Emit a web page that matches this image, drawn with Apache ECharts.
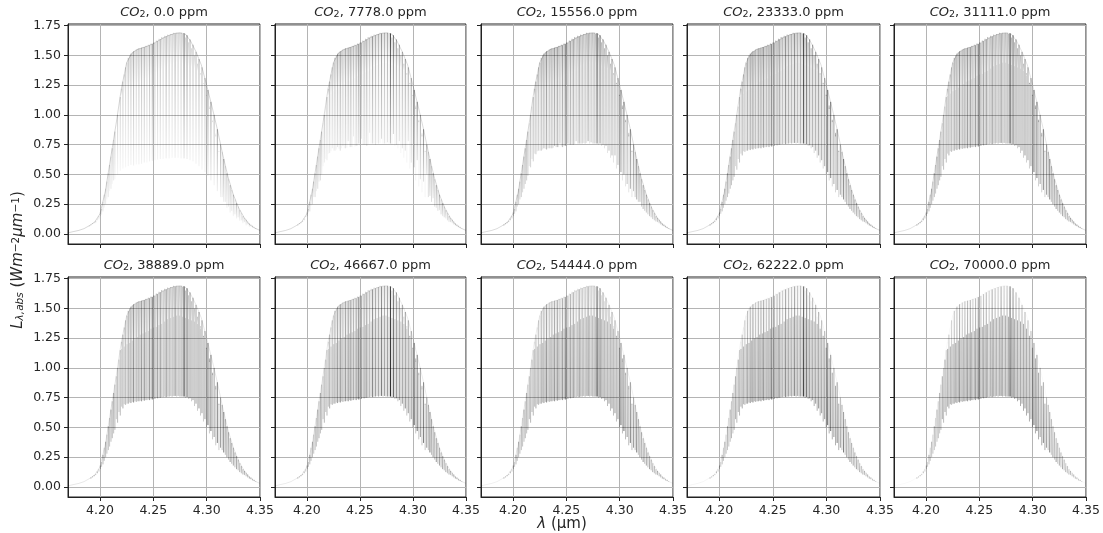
<!DOCTYPE html>
<html><head><meta charset="utf-8">
<style>html,body{margin:0;padding:0;background:#fff}#c{width:1103px;height:533px;filter:blur(0.4px)}</style>
<script src="https://cdn.jsdelivr.net/npm/echarts@6/dist/echarts.min.js"></script>
</head><body><div id="c"></div>
<script>
const ppmLabels=["0.0","7778.0","15556.0","23333.0","31111.0","38889.0","46667.0","54444.0","62222.0","70000.0"];
const xTicks=[4.20,4.25,4.30,4.35];
const yTicks=[0,0.25,0.5,0.75,1,1.25,1.5,1.75];
const envelopeX=[4.17,4.175,4.18,4.185,4.19,4.195,4.20,4.205,4.21,4.215,4.22,4.225,4.23,4.235,4.24,4.245,4.25,4.255,4.26,4.265,4.27,4.275,4.28,4.285,4.29,4.295,4.30,4.305,4.31,4.315,4.32,4.325,4.33,4.335,4.34,4.345,4.35];
const envelopeY=[0.01,0.02,0.03,0.045,0.07,0.10,0.17,0.36,0.64,0.92,1.22,1.44,1.52,1.55,1.565,1.58,1.60,1.625,1.65,1.67,1.685,1.69,1.68,1.62,1.53,1.42,1.25,1.07,0.88,0.67,0.48,0.33,0.22,0.14,0.08,0.05,0.03];
const strongWavelengths=[4.190,4.193,4.196,4.199,4.2015,4.204,4.2065,4.209,4.2115,4.214,4.2165,4.219,4.2215,4.224,4.2265,4.229,4.2315,4.234,4.2365,4.239,4.2415,4.244,4.2465,4.249,4.2515,4.254,4.2565,4.2592,4.262,4.2648,4.2676,4.2704,4.2732,4.276,4.2788,4.2816,4.2844,4.2872,4.290,4.2928,4.2956,4.2984,4.3012,4.304,4.307,4.310,4.313,4.316,4.319,4.322,4.325,4.328,4.331,4.334,4.337,4.340,4.343,4.346];
const strongUpper=[.07,.09,.11,.15,.21,.33,.44,.58,.72,.86,1.00,1.15,1.28,1.40,1.48,1.515,1.535,1.55,1.56,1.565,1.57,1.58,1.585,1.595,1.605,1.62,1.635,1.65,1.66,1.67,1.68,1.685,1.69,1.69,1.685,1.67,1.635,1.59,1.53,1.47,1.40,1.31,1.21,1.11,1.00,.88,.75,.63,.51,.41,.33,.26,.20,.15,.12,.09,.07,.05];
const strongWeight=[.6,.6,.6,.6,.6,.6,.6,.6,.7,.7,.7,.7,.8,.7,.9,1,1.2,.8,1,1.1,1.2,.8,1.1,1.5,.9,1,1.1,.8,1.3,1,.9,1.3,.9,1,2.2,1.6,1.1,1,1,1.1,1,1,1.5,1.4,1,1.3,1,1.3,1,1,.9,.9,.8,.8,.7,.7,.6,.6];
const strongLower0=[.06,.08,.09,.12,.16,.22,.29,.36,.42,.46,.50,.53,.55,.56,.57,.58,.575,.585,.585,.59,.60,.60,.61,.615,.62,.625,.63,.63,.635,.635,.64,.64,.64,.635,.635,.63,.62,.61,.59,.57,.54,.52,.49,.45,.41,.36,.31,.27,.22,.18,.15,.13,.11,.09,.07,.06,.05,.04];
const strongLower1=[.07,.08,.10,.14,.18,.24,.31,.36,.44,.50,.60,.62,.68,.72,.70,.73,.70,.74,.72,.78,.73,.82,.74,.76,.80,.75,.74,.85,.76,.75,.76,.80,.76,.77,.76,.84,.75,.78,.72,.70,.78,.60,.56,.62,.46,.44,.50,.32,.30,.22,.20,.15,.13,.10,.09,.07,.055,.045];
const strongLower2=[.07,.08,.10,.13,.17,.23,.29,.35,.42,.49,.56,.61,.67,.70,.70,.72,.71,.72,.72,.74,.73,.76,.73,.74,.76,.75,.75,.78,.76,.76,.76,.78,.77,.76,.76,.76,.75,.74,.70,.66,.66,.58,.52,.50,.42,.38,.36,.29,.27,.21,.18,.15,.125,.105,.09,.07,.055,.045];
const strongLower3=[.07,.08,.10,.13,.17,.22,.28,.34,.41,.48,.54,.60,.66,.69,.70,.705,.71,.715,.72,.72,.725,.73,.73,.735,.74,.745,.75,.755,.755,.76,.76,.765,.765,.76,.76,.755,.745,.73,.70,.66,.62,.57,.52,.47,.42,.37,.33,.29,.25,.21,.18,.15,.125,.105,.09,.07,.055,.045];
const strongLowerByPanel=[strongLower0,strongLower1,strongLower2,strongLower3,strongLower3,strongLower3,strongLower3,strongLower3,strongLower3,strongLower3];
const bandWavelengths=[4.2153,4.2178,4.2203,4.2228,4.2253,4.2278,4.2303,4.2328,4.2353,4.2378,4.2403,4.2428,4.2453,4.2478,4.2503,4.2528,4.2553,4.2578,4.2606,4.2634,4.2662,4.269,4.2718,4.2746,4.2774,4.2802,4.283,4.2858,4.2886,4.2914,4.2942,4.297,4.2998,4.3026,4.3055,4.3085,4.3115];
const capUpper=[.93,1.07,1.22,1.34,1.44,1.50,1.525,1.54,1.555,1.56,1.57,1.58,1.59,1.60,1.61,1.625,1.64,1.655,1.665,1.675,1.68,1.69,1.69,1.69,1.68,1.65,1.61,1.56,1.50,1.43,1.35,1.26,1.16,1.05,.94,.82,.69];
const bandUpper=[.93,1.07,1.16,1.18,1.20,1.21,1.23,1.25,1.26,1.28,1.29,1.30,1.31,1.33,1.34,1.345,1.36,1.37,1.39,1.41,1.42,1.43,1.44,1.44,1.43,1.42,1.41,1.40,1.39,1.37,1.33,1.27,1.17,1.08,.96,.85,.70];
const bandLower=[.57,.63,.675,.695,.70,.71,.715,.72,.72,.725,.73,.73,.735,.74,.74,.75,.75,.755,.76,.76,.765,.765,.76,.76,.76,.75,.74,.72,.68,.64,.60,.55,.50,.45,.40,.35,.31];
const tailWavelengths=[4.1915,4.1945,4.1975,4.2003,4.2028,4.2053,4.2078,4.2103,4.2128,4.3145,4.3175,4.3205,4.3235,4.3265,4.3295,4.3325,4.3355,4.3385,4.3415,4.3445];
const tailUpper=[.08,.10,.13,.18,.27,.38,.51,.65,.79,.69,.57,.46,.37,.29,.23,.175,.135,.105,.08,.06];
const tailLower=[.07,.09,.115,.15,.19,.25,.31,.38,.45,.31,.27,.23,.195,.165,.14,.115,.10,.08,.065,.05];
const strongAlphaTop=[.28,.34,.38,.38,.38,.36,.34,.30,.28,.25];
const strongAlphaBottom=[.05,.10,.24,.32,.36,.38,.40,.40,.40,.38];
const capAlphaTop=[.16,.22,.28,.30,.28,.24,.18,.12,.06,.02];
const capAlphaBottom=[0,.02,.10,.12,.10,.08,.05,.03,.02,0];
const bandAlpha=[0,.04,.10,.15,.18,.20,.22,.26,.30,.32];
const tailAlpha=[.12,.18,.26,.32,.34,.34,.34,.34,.32,.3];
const envelopeAlpha=[.2,.18,.18,.16,.14,.12,.1,.08,.05,.03];

const colLeft=[68,275,481,687,894], colWidth=[192,191,192,193,192], rowTop=[24,277], panelH=220;
const ink='#262626';
function rgba(a){return 'rgba(0,0,0,'+Math.max(0,Math.min(1,a)).toFixed(3)+')';}
function renderStroke(params,api){
  const x=api.value(0);
  const p1=api.coord([x,api.value(1)]), p2=api.coord([x,api.value(2)]);
  const g=new echarts.graphic.LinearGradient(p1[0],p1[1],p2[0],p2[1],[{offset:0,color:rgba(api.value(3))},{offset:1,color:rgba(api.value(4))}],true);
  return {type:'line',shape:{x1:p1[0],y1:p1[1],x2:p2[0],y2:p2[1]},style:{stroke:g,lineWidth:1,fill:null},silent:true};
}
const grid=[],xAxis=[],yAxis=[],series=[],title=[];
ppmLabels.forEach((ppm,i)=>{
  const r=Math.floor(i/5),c=i%5;
  grid.push({left:colLeft[c],top:rowTop[r],width:colWidth[c],height:panelH,show:true,borderColor:'#222',borderWidth:1,backgroundColor:'transparent',containLabel:false});
  xAxis.push({type:'value',gridIndex:i,min:4.17,max:4.35,
    axisLine:{show:true,onZero:false,lineStyle:{color:'#222',width:1}},
    axisTick:{show:true,length:4,customValues:xTicks,lineStyle:{color:'#222'}},
    axisLabel:{show:r===1,customValues:xTicks,margin:7,fontFamily:'DejaVu Sans',fontSize:12.5,color:ink,formatter:v=>v.toFixed(2),hideOverlap:false},
    splitLine:{show:true,lineStyle:{color:'#b4b4b4',width:1}}});
  yAxis.push({type:'value',gridIndex:i,min:-0.084,max:1.764,
    axisLine:{show:true,onZero:false,lineStyle:{color:'#222',width:1}},
    axisTick:{show:true,length:4,customValues:yTicks,lineStyle:{color:'#222'}},
    axisLabel:{show:c===0,customValues:yTicks,margin:7,fontFamily:'DejaVu Sans',fontSize:12.5,color:ink,formatter:v=>v.toFixed(2),hideOverlap:false},
    splitLine:{show:true,lineStyle:{color:'#b4b4b4',width:1}}});
  title.push({text:'{i|CO}{s|2}, '+ppm+' ppm',left:colLeft[c]+colWidth[c]/2-5,top:rowTop[r]-24,textAlign:'center',
    textStyle:{fontFamily:'DejaVu Sans',fontWeight:'normal',fontSize:13,color:ink,
      rich:{i:{fontFamily:'DejaVu Sans',fontStyle:'italic',fontSize:13,color:ink},s:{fontFamily:'DejaVu Sans',fontSize:9.5,color:ink,verticalAlign:'bottom',padding:[5,0,0,0]}}}});
  const lows=strongLowerByPanel[i];
  const strong=strongWavelengths.map((x,k)=>[x,strongUpper[k],lows[k],strongAlphaTop[i]*strongWeight[k],strongAlphaBottom[i]*strongWeight[k]]);
  const band=bandWavelengths.map((x,k)=>[x,bandUpper[k],bandLower[k],bandAlpha[i],bandAlpha[i]]);
  const cap=bandWavelengths.map((x,k)=>[x,capUpper[k],bandUpper[k],capAlphaTop[i],capAlphaBottom[i]]);
  const tail=tailWavelengths.map((x,k)=>[x,tailUpper[k],tailLower[k],tailAlpha[i],tailAlpha[i]*0.7]);
  const base={type:'custom',coordinateSystem:'cartesian2d',xAxisIndex:i,yAxisIndex:i,renderItem:renderStroke,clip:true,silent:true,animation:false,encode:{x:0,y:[1,2]}};
  series.push(Object.assign({},base,{data:band}));
  series.push(Object.assign({},base,{data:cap}));
  series.push(Object.assign({},base,{data:tail}));
  series.push(Object.assign({},base,{data:strong}));
  series.push({type:'line',xAxisIndex:i,yAxisIndex:i,data:envelopeX.map((x,k)=>[x,envelopeY[k]]),showSymbol:false,silent:true,animation:false,lineStyle:{color:'#000',width:0.8,opacity:envelopeAlpha[i]}});
});
const chart=echarts.init(document.getElementById('c'),null,{renderer:'canvas'});
chart.setOption({animation:false,backgroundColor:'#fff',grid,xAxis,yAxis,series,title,tooltip:{show:false},
  graphic:[
    {type:'text',x:18,y:260,rotation:Math.PI/2,silent:true,style:{text:'{i|L}{s|λ,abs} ({i|Wm}{u|−2}{i|μm}{u|−1})',align:'center',verticalAlign:'middle',
      font:'15px "DejaVu Sans"',fill:ink,rich:{i:{fontFamily:'DejaVu Sans',fontStyle:'italic',fontSize:15,fill:ink},s:{fontFamily:'DejaVu Sans',fontStyle:'italic',fontSize:10.5,fill:ink,verticalAlign:'bottom'},u:{fontFamily:'DejaVu Sans',fontSize:10.5,fill:ink,verticalAlign:'top'}}}},
    {type:'text',x:562,y:524,silent:true,style:{text:'{i|λ} (μm)',align:'center',verticalAlign:'middle',font:'15px "DejaVu Sans"',fill:ink,rich:{i:{fontFamily:'DejaVu Sans',fontStyle:'italic',fontSize:15,fill:ink}}}}
  ]});
</script></body></html>
